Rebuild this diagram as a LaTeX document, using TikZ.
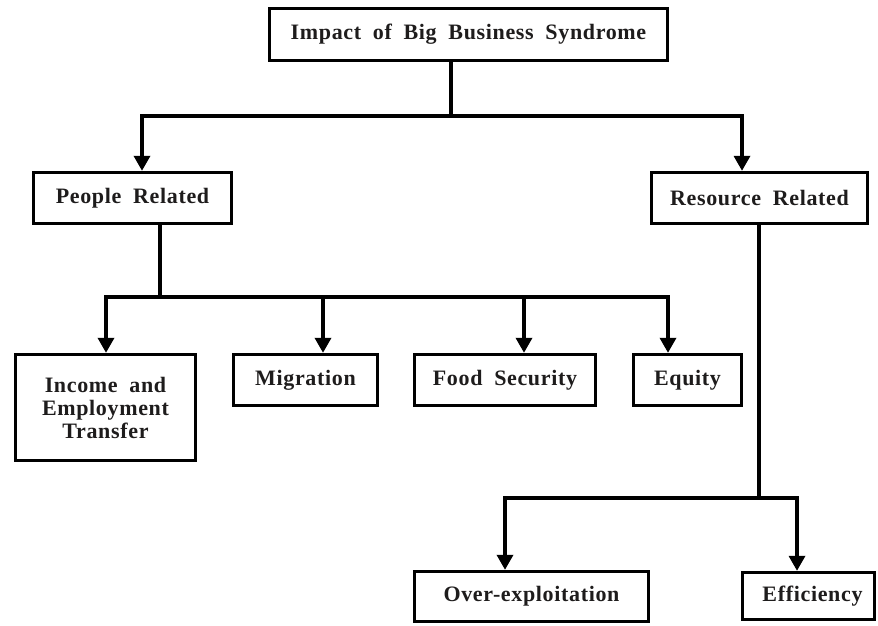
\documentclass[tikz,border=0pt]{standalone}
\usepackage{fontspec}
\setmainfont{Liberation Serif}[LetterSpace=3, WordSpace=1.9]
\usetikzlibrary{arrows.meta}
\definecolor{ink}{RGB}{30,28,28}
\begin{document}
\begin{tikzpicture}[x=1pt,y=-1pt,
  box/.style={draw=black, line width=3.4pt, fill=white, inner sep=0pt, align=center,
    text=ink, font=\fontsize{22}{23}\selectfont\bfseries},
  conn/.style={draw=black, line width=3.4pt},
  arr/.style={conn, -{Triangle[length=15pt,width=16pt]}}
]
\useasboundingbox (0,0) rectangle (878,625);
\node[box, minimum width=398pt, minimum height=52pt] (top) at (468.5,34.5) {\raisebox{3pt}{Impact of Big Business Syndrome}};
\node[box, minimum width=198pt, minimum height=51pt] (people) at (132.5,198) {People Related};
\node[box, minimum width=216pt, minimum height=51pt] (resource) at (759.5,198) {Resource Related};
\node[box, minimum width=180pt, minimum height=106pt] (income) at (105.5,407.5) {Income and\\Employment\\Transfer};
\node[box, minimum width=144pt, minimum height=51pt] (migration) at (305.5,380) {\raisebox{3pt}{Migration}};
\node[box, minimum width=181pt, minimum height=51pt] (food) at (505,380) {\raisebox{2pt}{Food Security}};
\node[box, minimum width=108pt, minimum height=51pt] (equity) at (687.5,380) {Equity};
\node[box, minimum width=234pt, minimum height=50pt] (overexp) at (531.5,596.5) {\raisebox{-3pt}{Over-exploitation}};
\node[box, minimum width=132pt, minimum height=47pt] (eff) at (808.5,596) {\hspace*{8pt}Efficiency};

\coordinate (j1) at (451,116);
\coordinate (l1) at (142,116);
\coordinate (r1) at (742,116);
\coordinate (j2) at (160,297);
\coordinate (a1) at (106,297);
\coordinate (a2) at (323,297);
\coordinate (a3) at (524,297);
\coordinate (a4) at (668,297);
\coordinate (j3) at (759,498);
\coordinate (b1) at (505,498);
\coordinate (b2) at (797,498);

\draw[conn] (top.south -| j1) -- (j1);
\draw[arr] (j1) -| (l1 |- people.north);
\draw[arr] (j1) -| (r1 |- resource.north);

\draw[conn] (people.south -| j2) -- (j2);
\draw[arr] (j2) -| (a1 |- income.north);
\draw[arr] (j2) -| (a4 |- equity.north);
\draw[arr] (a2) -- (a2 |- migration.north);
\draw[arr] (a3) -- (a3 |- food.north);

\draw[conn] (resource.south -| j3) -- (j3);
\draw[arr] (j3) -| (b1 |- overexp.north);
\draw[arr] (j3) -| (b2 |- eff.north);
\end{tikzpicture}
\end{document}
